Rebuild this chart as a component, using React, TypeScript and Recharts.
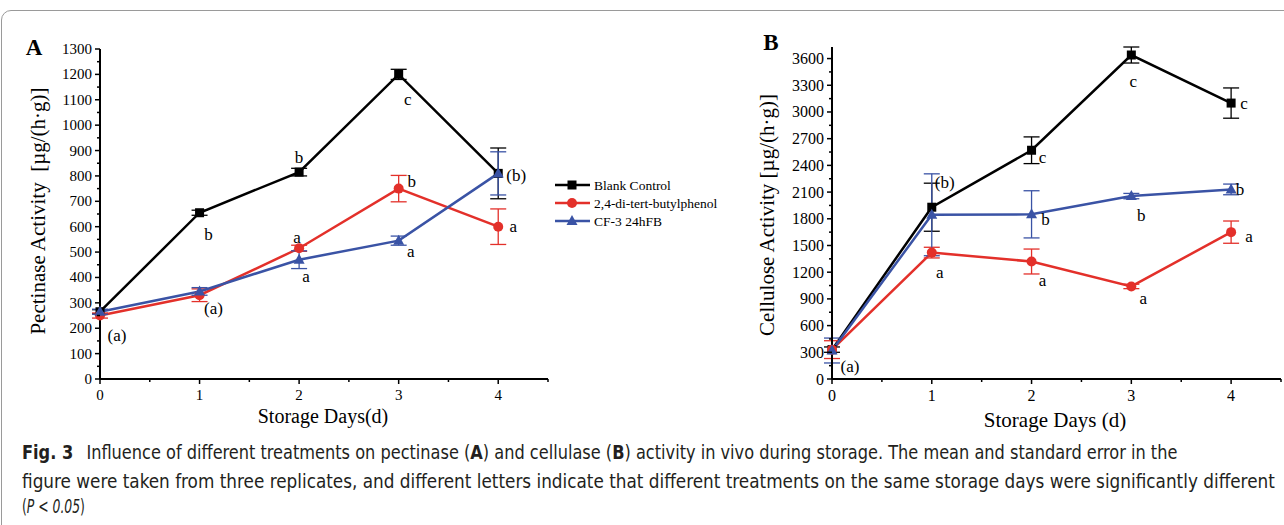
import { useLayoutEffect, useRef, useState } from "react";
import type { ReactNode } from "react";
import { LineChart, Line, XAxis, YAxis, ErrorBar } from "recharts";

// storage days
const days = [0, 1, 2, 3, 4];
const seriesNames = ["Blank Control", "2,4-di-tert-butylphenol", "CF-3 24hFB"];
const seriesColors = ["#000000", "#e3302a", "#3a53a5"];

// panel A - pectinase
const pectBlank = [265, 655, 815, 1200, 810];
const pectBlankErr = [8, 10, 15, 20, 100];
const pectDtbp = [250, 330, 515, 750, 600];
const pectDtbpErr = [10, 25, 12, 52, 70];
const pectCf3 = [265, 345, 470, 545, 810];
const pectCf3Err = [10, 15, 35, 18, 85];
const pectBlankSig = ["(a)", "b", "b", "c", "(b)"];
const pectDtbpSig = ["", "(a)", "a", "b", "a"];
const pectCf3Sig = ["", "", "a", "a", ""];

// panel B - cellulase
const celBlank = [330, 1930, 2570, 3640, 3100];
const celBlankErr = [30, 270, 150, 90, 170];
const celDtbp = [330, 1420, 1320, 1040, 1650];
const celDtbpErr = [100, 60, 140, 25, 125];
const celCf3 = [320, 1845, 1850, 2055, 2130];
const celCf3Err = [140, 460, 265, 30, 60];
const celBlankSig = ["(a)", "(b)", "c", "c", "c"];
const celDtbpSig = ["", "a", "a", "a", "a"];
const celCf3Sig = ["", "", "b", "b", "b"];

const xTicks = [0, 0.5, 1, 1.5, 2, 2.5, 3, 3.5, 4, 4.5];
const pectTicks = Array.from({ length: 27 }, (_, i) => i * 50);
const celTicks = Array.from({ length: 25 }, (_, i) => i * 150);

// letter offsets from the point (dx, dy)
const pectBlankOff = [[17, 24], [9, 22], [0, -15], [9, 25], [18, 2]];
const pectDtbpOff = [[0, 0], [14, 13], [-2, -11], [13, -7], [15, 0]];
const pectCf3Off = [[0, 0], [0, 0], [7, 17], [12, 11], [0, 0]];
const celBlankOff = [[18, 17], [13, -25], [11, 7], [2, 26], [13, 0]];
const celDtbpOff = [[0, 0], [8, 20], [11, 19], [12, 12], [18, 4]];
const celCf3Off = [[0, 0], [0, 0], [14, 5], [10, 19], [9, 0]];

const serif = "'Liberation Serif', 'Times New Roman', serif";
const capFont = "'Liberation Sans Narrow', 'DejaVu Sans Condensed', sans-serif";

const buildRows = (b: number[], be: number[], r: number[], re: number[], c: number[], ce: number[]) =>
  days.map((d, i) => ({ day: d, blank: b[i], blankErr: be[i], dtbp: r[i], dtbpErr: re[i], cf3: c[i], cf3Err: ce[i] }));

const pectRows = buildRows(pectBlank, pectBlankErr, pectDtbp, pectDtbpErr, pectCf3, pectCf3Err);
const celRows = buildRows(celBlank, celBlankErr, celDtbp, celDtbpErr, celCf3, celCf3Err);

type Shape = "square" | "circle" | "triangle";

const Marker = ({ shape, cx, cy, color }: { shape: Shape; cx: number; cy: number; color: string }) => {
  if (shape === "square") return <rect x={cx - 4.5} y={cy - 4.5} width={9} height={9} fill={color} />;
  if (shape === "circle") return <circle cx={cx} cy={cy} r={5} fill={color} />;
  return <polygon points={`${cx},${cy - 6} ${cx + 5.5},${cy + 4} ${cx - 5.5},${cy + 4}`} fill={color} />;
};

const makeDot = (shape: Shape, color: string, sig: string[], off: number[][]) => (props: any) => {
  const { cx, cy, index } = props;
  if (cx == null || cy == null) return <g key={`e${index}`} />;
  return (
    <g key={`d${index}`}>
      <Marker shape={shape} cx={cx} cy={cy} color={color} />
      {sig[index] ? (
        <text x={cx + off[index][0]} y={cy + off[index][1]} textAnchor="middle" dominantBaseline="central"
          fontFamily={serif} fontSize={17} fill="#000">
          {sig[index]}
        </text>
      ) : null}
    </g>
  );
};

const makeYTick = (step: number, fs: number) => (props: any) => {
  const { x, y, payload } = props;
  const major = payload.value % step === 0;
  return (
    <g>
      <line x1={x - (major ? 5 : 3)} x2={x} y1={y} y2={y} stroke="#000" strokeWidth={1.5} />
      {major ? (
        <text x={x - 8} y={y} textAnchor="end" dominantBaseline="central" fontFamily={serif} fontSize={fs} fill="#000">
          {payload.value}
        </text>
      ) : null}
    </g>
  );
};

const makeXTick = (fs: number) => (props: any) => {
  const { x, y, payload } = props;
  const major = Number.isInteger(payload.value);
  return (
    <g>
      <line x1={x} x2={x} y1={y} y2={y + (major ? 5 : 3)} stroke="#000" strokeWidth={1.5} />
      {major ? (
        <text x={x} y={y + 16} textAnchor="middle" dominantBaseline="central" fontFamily={serif} fontSize={fs} fill="#000">
          {payload.value}
        </text>
      ) : null}
    </g>
  );
};

const Panel = ({ rows, width, margin, yMax, yTicks, yStep, sigs, offs, fs }: any) => (
  <LineChart width={width} height={440} data={rows} margin={margin}>
    <XAxis dataKey="day" type="number" domain={[0, 4.5]} ticks={xTicks} interval={0} height={30}
      tickSize={0} tickMargin={0} tick={makeXTick(fs)} axisLine={{ stroke: "#000", strokeWidth: 2 }} />
    <YAxis type="number" domain={[0, yMax]} ticks={yTicks} interval={0} width={60}
      tickSize={0} tickMargin={0} tick={makeYTick(yStep, fs)} axisLine={{ stroke: "#000", strokeWidth: 2 }} />
    <Line dataKey="blank" stroke={seriesColors[0]} strokeWidth={2.5} isAnimationActive={false}
      dot={makeDot("square", seriesColors[0], sigs[0], offs[0])} activeDot={false}>
      <ErrorBar dataKey="blankErr" direction="y" width={8} stroke={seriesColors[0]} strokeWidth={1.3} />
    </Line>
    <Line dataKey="dtbp" stroke={seriesColors[1]} strokeWidth={2.5} isAnimationActive={false}
      dot={makeDot("circle", seriesColors[1], sigs[1], offs[1])} activeDot={false}>
      <ErrorBar dataKey="dtbpErr" direction="y" width={8} stroke={seriesColors[1]} strokeWidth={1.3} />
    </Line>
    <Line dataKey="cf3" stroke={seriesColors[2]} strokeWidth={2.5} isAnimationActive={false}
      dot={makeDot("triangle", seriesColors[2], sigs[2], offs[2])} activeDot={false}>
      <ErrorBar dataKey="cf3Err" direction="y" width={8} stroke={seriesColors[2]} strokeWidth={1.3} />
    </Line>
  </LineChart>
);

// caption line squeezed horizontally to the width it has in the figure
const CaptionLine = ({ top, width, children }: { top: number; width: number; children: ReactNode }) => {
  const ref = useRef<HTMLDivElement>(null);
  const [k, setK] = useState(1);
  useLayoutEffect(() => {
    if (ref.current) setK(width / ref.current.offsetWidth);
  }, [width]);
  return (
    <div ref={ref} style={{
      position: "absolute", left: 22, top: top - 11, lineHeight: "22px", whiteSpace: "nowrap",
      fontFamily: capFont, fontSize: 19, color: "#231f20", transform: `scaleX(${k})`, transformOrigin: "0 0",
    }}>
      {children}
    </div>
  );
};

const shapes: Shape[] = ["square", "circle", "triangle"];

export default function App() {
  return (
    <div style={{ position: "fixed", left: 0, top: 0, width: 1284, height: 525, background: "#fff", overflow: "hidden" }}>
      <div style={{ position: "absolute", left: 1, top: 10, width: 1310, height: 560, border: "1px solid #9a9a9a", borderRadius: 10 }} />
      <div style={{ position: "absolute", left: 0, top: 0 }}>
        <Panel rows={pectRows} width={740} margin={{ top: 49, right: 192, bottom: 31, left: 40 }} yMax={1300}
          yTicks={pectTicks} yStep={100} fs={15} sigs={[pectBlankSig, pectDtbpSig, pectCf3Sig]}
          offs={[pectBlankOff, pectDtbpOff, pectCf3Off]} />
      </div>
      <div style={{ position: "absolute", left: 740, top: 0 }}>
        <Panel rows={celRows} width={544} margin={{ top: 47, right: 3, bottom: 31, left: 32 }} yMax={3700}
          yTicks={celTicks} yStep={300} fs={16} sigs={[celBlankSig, celDtbpSig, celCf3Sig]}
          offs={[celBlankOff, celDtbpOff, celCf3Off]} />
      </div>
      <svg width={1284} height={440} style={{ position: "absolute", left: 0, top: 0, pointerEvents: "none" }}>
        <text x={34} y={47} textAnchor="middle" dominantBaseline="central" fontFamily={serif} fontWeight="bold" fontSize={23}>A</text>
        <text x={771} y={42} textAnchor="middle" dominantBaseline="central" fontFamily={serif} fontWeight="bold" fontSize={23}>B</text>
        <text transform="translate(38,211) rotate(-90)" textAnchor="middle" dominantBaseline="central" fontFamily={serif} fontSize={21} xmlSpace="preserve">
          Pectinase Activity  [µg/(h·g)]
        </text>
        <text transform="translate(767,215) rotate(-90)" textAnchor="middle" dominantBaseline="central" fontFamily={serif} fontSize={21}>
          Cellulose Activity [µg/(h·g)]
        </text>
        <text x={323} y={416} textAnchor="middle" dominantBaseline="central" fontFamily={serif} fontSize={20}>Storage Days(d)</text>
        <text x={1055} y={420} textAnchor="middle" dominantBaseline="central" fontFamily={serif} fontSize={21}>Storage Days (d)</text>
        {seriesNames.map((name, i) => (
          <g key={name}>
            <line x1={555} x2={590} y1={185 + i * 18} y2={185 + i * 18} stroke={seriesColors[i]} strokeWidth={2.5} />
            <Marker shape={shapes[i]} cx={572} cy={185 + i * 18} color={seriesColors[i]} />
            <text x={594} y={185 + i * 18} dominantBaseline="central" fontFamily={serif} fontSize={13.5}>{name}</text>
          </g>
        ))}
      </svg>
      <CaptionLine top={452} width={1155}>
        <b>Fig. 3</b>{"\u2002 Influence of different treatments on pectinase ("}<b>A</b>{") and cellulase ("}<b>B</b>{") activity in vivo during storage. The mean and standard error in the"}
      </CaptionLine>
      <CaptionLine top={481} width={1253}>
        figure were taken from three replicates, and different letters indicate that different treatments on the same storage days were significantly different
      </CaptionLine>
      <CaptionLine top={506} width={63}>
        (<i>P {"<"} 0.05</i>)
      </CaptionLine>
    </div>
  );
}
